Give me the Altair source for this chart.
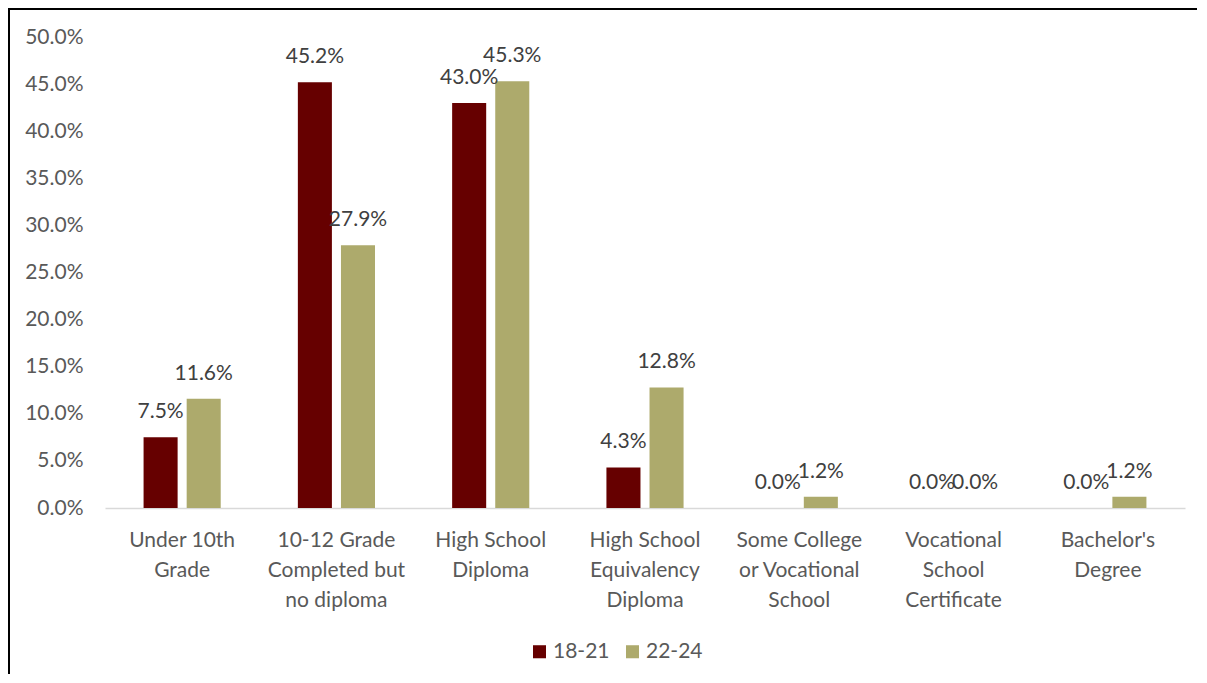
import altair as alt
import pandas as pd

categories = [
    "Under 10th|Grade",
    "10-12 Grade|Completed but|no diploma",
    "High School|Diploma",
    "High School|Equivalency|Diploma",
    "Some College|or Vocational|School",
    "Vocational|School|Certificate",
    "Bachelor's|Degree",
]
groups = ["18-21", "22-24"]
values_18_21 = [7.5, 45.2, 43.0, 4.3, 0.0, 0.0, 0.0]
values_22_24 = [11.6, 27.9, 45.3, 12.8, 1.2, 0.0, 1.2]
y_ticks = [0.0, 0.05, 0.10, 0.15, 0.20, 0.25, 0.30, 0.35, 0.40, 0.45, 0.50]

rows = []
for c, a, b in zip(categories, values_18_21, values_22_24):
    rows.append({"category": c, "group": groups[0], "value": a / 100})
    rows.append({"category": c, "group": groups[1], "value": b / 100})
df = pd.DataFrame(rows)

FONT = "Lato"
FS = 21
W, H = 1080, 471
PL, PT = 97, 29

x_enc = alt.X(
    "category:N",
    sort=categories,
    scale=alt.Scale(paddingInner=0.5, paddingOuter=0.25),
    axis=alt.Axis(
        title=None,
        labelAngle=0,
        labelExpr="split(datum.label, '|')",
        labelFontSize=FS,
        labelColor="#595959",
        labelFont=FONT,
        labelLineHeight=30,
        labelPadding=21,
        labelBaseline="top",
        ticks=False,
        domainColor="#D9D9D9",
        domainWidth=1.5,
        labelLimit=300,
    ),
)
y_enc = alt.Y(
    "value:Q",
    scale=alt.Scale(domain=[0, 0.5], nice=False),
    axis=alt.Axis(
        title=None,
        format=".1%",
        values=y_ticks,
        grid=False,
        domain=False,
        ticks=False,
        labelFontSize=FS,
        labelColor="#595959",
        labelFont=FONT,
        labelPadding=22,
    ),
)
xoff = alt.XOffset("group:N", sort=groups, scale=alt.Scale(paddingInner=0.21, paddingOuter=0))
color = alt.Color(
    "group:N",
    sort=groups,
    scale=alt.Scale(domain=groups, range=["#660000", "#ADAA6C"]),
    legend=alt.Legend(
        title=None,
        orient="none",
        direction="horizontal",
        legendX=424,
        legendY=604,
        symbolType="square",
        symbolSize=170,
        symbolStrokeWidth=0,
        labelFontSize=FS,
        labelColor="#595959",
        labelFont=FONT,
        columnPadding=12,
        labelOffset=3,
    ),
)

base = alt.Chart(df)
bars = base.mark_bar().encode(x=x_enc, y=y_enc, xOffset=xoff, color=color)
labels = base.mark_text(
    baseline="middle", dy=-25, fontSize=FS, font=FONT, color="#404040"
).encode(
    x=alt.X("category:N", sort=categories),
    y="value:Q",
    xOffset=alt.XOffset("group:N", sort=groups),
    text=alt.Text("value:Q", format=".1%"),
)

one = alt.Chart(pd.DataFrame({"k": [0]}))
left_border = one.mark_rule(color="#000000", strokeWidth=2).encode(
    x=alt.value(-PL + 1), y=alt.value(-PT), y2=alt.value(700)
)
top_border = one.mark_rule(color="#000000", strokeWidth=2).encode(
    y=alt.value(-PT + 1), x=alt.value(-PL), x2=alt.value(1200)
)

chart = (
    alt.layer(bars, labels, left_border, top_border)
    .properties(
        width=W,
        height=H,
        autosize=alt.AutoSizeParams(type="none"),
        padding={"left": PL, "top": PT, "right": 12, "bottom": 166},
    )
    .configure_view(stroke=None)
)

chart.save("out.html", embed_options={"renderer": "svg", "actions": False})
